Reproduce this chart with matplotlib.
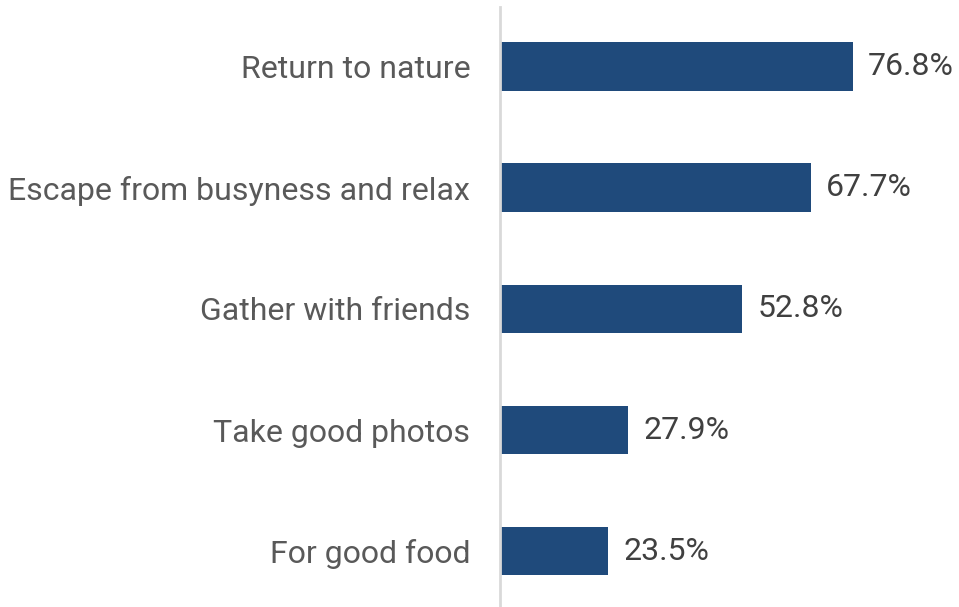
import matplotlib
matplotlib.use("Agg")
import matplotlib.pyplot as plt

categories = ["Return to nature", "Escape from busyness and relax",
              "Gather with friends", "Take good photos", "For good food"]
values = [76.8, 67.7, 52.8, 27.9, 23.5]

plt.rcParams['font.family'] = ['Roboto', 'DejaVu Sans']

fig = plt.figure(figsize=(9.59, 6.07), dpi=100)
ax = fig.add_axes([500 / 959, 0, 459 / 959, 600 / 607])

pos = list(range(len(categories)))[::-1]
ax.barh(pos, values, height=0.4, color="#1F4A7B", zorder=2)

for p, v in zip(pos, values):
    ax.text(v + 3.4, p, f"{v:.1f}%", va="center", ha="left",
            fontsize=23, color="#404040")

ax.set_xlim(0, 100)
ax.set_ylim(-0.46, 4.49)
ax.set_yticks(pos)
ax.set_yticklabels(categories, fontsize=23, color="#595959")
ax.tick_params(axis="y", length=0, pad=21.5)
ax.set_xticks([])
for s in ["top", "right", "bottom"]:
    ax.spines[s].set_visible(False)
ax.spines["left"].set_color("#D9D9D9")
ax.spines["left"].set_linewidth(2)

fig.savefig("out.png", dpi=100)
